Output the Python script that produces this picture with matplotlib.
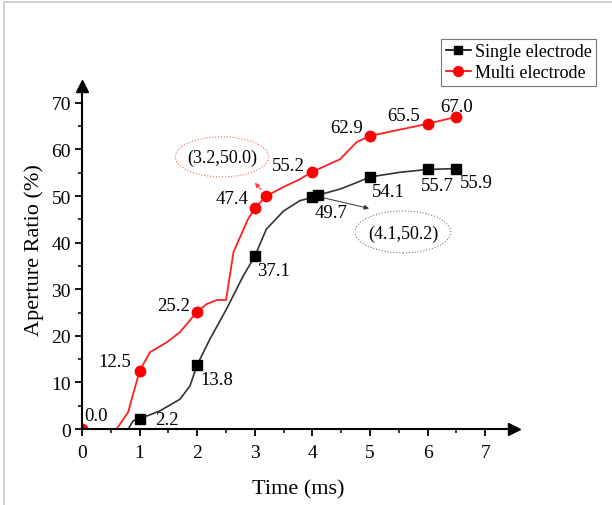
import matplotlib
matplotlib.use('Agg')
import matplotlib.pyplot as plt
from matplotlib.patches import Ellipse, Rectangle

plt.rcParams['font.family'] = ['Liberation Serif', 'DejaVu Serif']

# measured points
t_single = [1, 2, 3, 4, 4.1, 5, 6, 6.5]
ar_single = [2.2, 13.8, 37.1, 49.7, 50.2, 54.1, 55.7, 55.9]
t_multi = [0, 1, 2, 3, 3.2, 4, 5, 6, 6.5]
ar_multi = [0.0, 12.5, 25.2, 47.4, 50.0, 55.2, 62.9, 65.5, 67.0]

# curve traces (the fitted lines)
curve_single_t = [0.80, 0.89, 1.0, 1.35, 1.70, 1.875, 2.0, 2.22, 2.51, 2.80, 3.0,
                  3.2, 3.5, 3.78, 4.0, 4.1, 4.48, 4.77, 5.0, 5.52, 6.0, 6.5]
curve_single_y = [0.0, 1.8, 2.2, 3.9, 6.4, 9.3, 13.8, 19.3, 25.8, 32.9, 37.1,
                  42.9, 46.8, 49.0, 49.7, 50.2, 51.5, 52.9, 54.1, 55.1, 55.7, 55.9]
curve_multi_t = [0.60, 0.80, 1.0, 1.18, 1.47, 1.70, 2.0, 2.16, 2.34, 2.5, 2.63, 2.88,
                 3.0, 3.2, 3.49, 3.78, 4.0, 4.48, 4.62, 4.77, 5.0, 6.0, 6.5]
curve_multi_y = [0.0, 3.6, 12.5, 16.5, 18.6, 20.8, 25.2, 26.8, 27.7, 27.7, 38.0, 45.0,
                 47.4, 50.0, 51.9, 53.6, 55.2, 57.9, 59.7, 61.6, 62.9, 65.5, 67.0]

labels_single = ['2.2', '13.8', '37.1', '49.7', '54.1', '55.7', '55.9']
pos_single = [(1.47, 2.0), (2.34, 10.7), (3.32, 34.0), (4.33, 46.5),
              (5.31, 51.0), (6.16, 52.2), (6.85, 52.8)]
labels_multi = ['0.0', '12.5', '25.2', '47.4', '55.2', '62.9', '65.5', '67.0']
pos_multi = [(0.25, 3.0), (0.57, 14.4), (1.59, 26.6), (2.6, 49.4),
             (3.58, 56.5), (4.6, 64.7), (5.58, 67.2), (6.5, 69.2)]

fig = plt.figure(figsize=(6.12, 5.06), dpi=100)
ax = fig.add_axes([0.134, 0.150, 0.706, 0.678])

ax.plot(curve_single_t, curve_single_y, color='#333333', lw=1.2)
ax.plot(curve_multi_t, curve_multi_y, color='#ff2020', lw=1.3)
ax.plot(t_single, ar_single, 's', color='black', ms=6.5, label='Single electrode')
ax.plot(t_multi, ar_multi, 'o', color='red', ms=7.5, label='Multi electrode')

# legend handles with line through marker
h1, = ax.plot([], [], '-s', color='black', lw=1.2, ms=6)
h2, = ax.plot([], [], '-o', color='red', lw=1.2, ms=7)
leg = fig.legend([h1, h2], ['Single electrode', 'Multi electrode'],
                 loc='upper right', bbox_to_anchor=(0.974, 0.921),
                 fontsize=13, fancybox=False, edgecolor='#555555',
                 handlelength=1.4, handletextpad=0.2, borderpad=0.25,
                 labelspacing=0.2, borderaxespad=0)
leg.get_frame().set_linewidth(0.8)

for s, (x, y) in zip(labels_single, pos_single):
    ax.text(x, y, s, fontsize=13.5, ha='center', va='center')
for s, (x, y) in zip(labels_multi, pos_multi):
    ax.text(x, y, s, fontsize=13.5, ha='center', va='center')

# callouts
ax.add_patch(Ellipse((2.43, 58.4), 1.62, 8.6, fill=False, ec='#ff6060',
                     ls=':', lw=0.8))
ax.text(2.43, 58.4, '(3.2,50.0)', fontsize=13, ha='center', va='center')
ax.annotate('', xy=(2.97, 53.3), xytext=(3.14, 50.9),
            arrowprops=dict(arrowstyle='-|>', color='#ff4040', lw=0.7,
                            mutation_scale=7))
ax.add_patch(Ellipse((5.57, 42.3), 1.66, 9.0, fill=False, ec='#777777',
                     ls=':', lw=0.8))
ax.text(5.57, 42.0, '(4.1,50.2)', fontsize=13, ha='center', va='center')
ax.annotate('', xy=(5.03, 47.2), xytext=(4.13, 49.8),
            arrowprops=dict(arrowstyle='-|>', color='#333333', lw=0.7,
                            mutation_scale=7))

ax.set_xlim(0, 7.5)
ax.set_ylim(0, 73.6)
ax.set_xticks(range(0, 8))
ax.set_xticks([i + 0.5 for i in range(0, 7)], minor=True)
ax.set_yticks(range(0, 80, 10))
ax.set_yticks(range(5, 75, 10), minor=True)
ax.set_yticklabels([str(v) for v in range(0, 80, 10)])
ax.tick_params(which='major', direction='out', length=5, width=1.3, labelsize=14)
ax.tick_params(axis='x', which='major', pad=6)
ax.tick_params(axis='y', which='major', pad=3)
ax.tick_params(which='minor', direction='out', length=3, width=1.1)
for side in ['top', 'right']:
    ax.spines[side].set_visible(False)
for side in ['left', 'bottom']:
    ax.spines[side].set_linewidth(1.5)
ax.plot(1, 0, '>', color='black', ms=9, transform=ax.transAxes, clip_on=False)
ax.plot(0, 1, '^', color='black', ms=9, transform=ax.transAxes, clip_on=False)

ax.set_xlabel('Time (ms)', fontsize=16, labelpad=13)
ax.set_ylabel('Aperture Ratio (%)', fontsize=16)
ax.yaxis.set_label_coords(-0.088, 0.525)

# faint page border at top/left
fig.add_artist(Rectangle((0.007, -0.1), 1.1, 1.095, transform=fig.transFigure,
                         fill=False, ec='#c8c8c8', lw=1.2))

fig.savefig('out.png', dpi=100)
